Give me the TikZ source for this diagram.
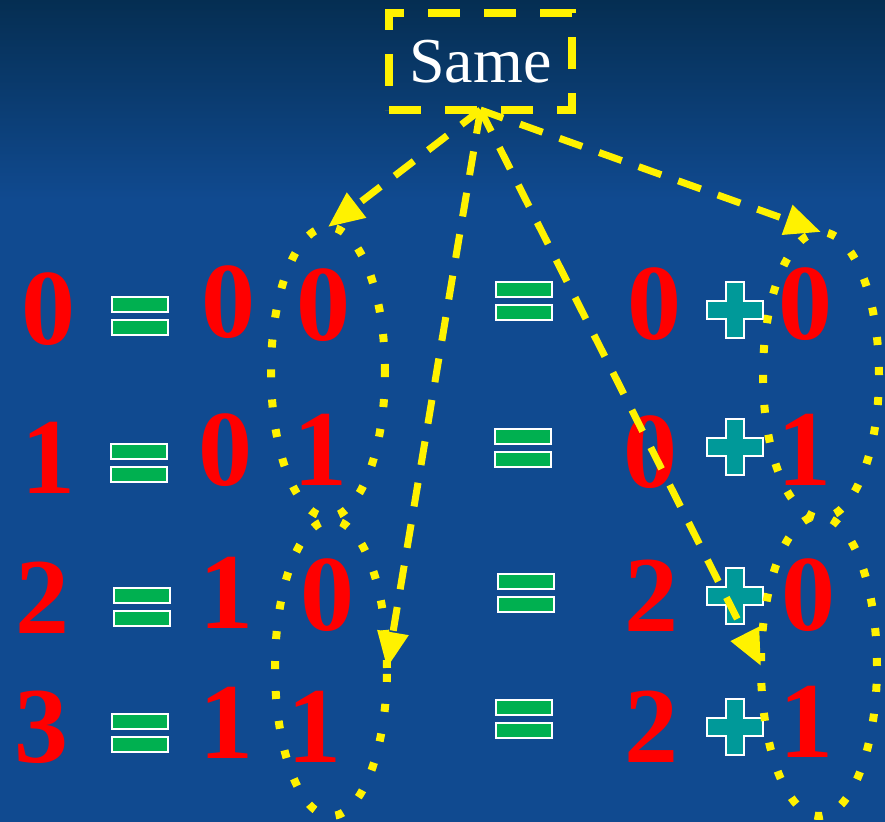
\documentclass[tikz,border=0pt]{standalone}
\usepackage{fontspec}
\setmainfont{Liberation Serif}
\usepackage{tikz}
\usetikzlibrary{arrows.meta,shapes.geometric}
\definecolor{bgdark}{RGB}{5,46,82}
\definecolor{bgblue}{RGB}{16,74,144}
\definecolor{eqgreen}{RGB}{0,176,80}
\definecolor{plusteal}{RGB}{0,153,153}
\tikzset{>={Triangle[length=18pt,width=15pt]}}
\tikzset{
  digit/.style={text=red, font=\bfseries\fontsize{54}{60}\selectfont, inner sep=0pt},
  samebox/.style={draw=yellow, line width=4pt, dash pattern=on 16pt off 12pt,
    minimum width=91.5pt, minimum height=48.5pt, inner sep=0pt, outer sep=0pt,
    text=white, font=\fontsize{32}{38}\selectfont},
  loopring/.style={ellipse, draw=yellow, line width=4pt, dash pattern=on 4pt off 11pt, outer sep=0pt},
  jump/.style={yellow, line width=3.5pt, dash pattern=on 12pt off 9pt, ->},
  eqsign/.pic={
    \filldraw[fill=eqgreen, draw=white, line width=1pt] (-28,-19) rectangle (28,-4);
    \filldraw[fill=eqgreen, draw=white, line width=1pt] (-28,4) rectangle (28,19);
  },
  plussign/.pic={
    \filldraw[fill=plusteal, draw=white, line width=1pt] (-9,-28) -- (9,-28) -- (9,-9) -- (28,-9)
      -- (28,9) -- (9,9) -- (9,28) -- (-9,28) -- (-9,9) -- (-28,9) -- (-28,-9) -- (-9,-9) -- cycle;
  }
}

\begin{document}
\begin{tikzpicture}[x=0.5pt,y=-0.5pt]
    \useasboundingbox (0,0) rectangle (885,822);
    \fill[bgblue] (0,0) rectangle (885,822);
    \shade[top color=bgdark, bottom color=bgblue] (0,0) rectangle (885,200);

    \node[samebox] (same) at (480.5,61.5) {Same};

    % left side
    \node[digit] (n0) at (48,309) {0};
    \node[digit] (n1) at (48,458) {1};
    \node[digit] (n2) at (43,598) {2};
    \node[digit] (n3) at (42,727) {3};
    \pic at (140,316) {eqsign};
    \pic at (139,463) {eqsign};
    \pic at (142,607) {eqsign};
    \pic at (140,733) {eqsign};
    \node[digit] (hi0) at (228,302) {0};
    \node[digit] (lo0) at (323,305) {0};
    \node[digit] (hi1) at (225,450) {0};
    \node[digit] (lo1) at (320,450) {1};
    \node[digit] (hi2) at (226,593) {1};
    \node[digit] (lo2) at (327,595) {0};
    \node[digit] (hi3) at (226,723) {1};
    \node[digit] (lo3) at (314,727) {1};

    % right side
    \pic at (524,301) {eqsign};
    \pic at (523,448) {eqsign};
    \pic at (526,593) {eqsign};
    \pic at (524,719) {eqsign};
    \node[digit] (tw0) at (654,304) {0};
    \node[digit] (tw1) at (650,452) {0};
    \node[digit] (tw2) at (651,596) {2};
    \node[digit] (tw3) at (651,727) {2};
    \pic at (735,310) {plussign};
    \pic at (735,447) {plussign};
    \pic at (735,596) {plussign};
    \pic at (735,727) {plussign};
    \node[digit] (on0) at (805,304) {0};
    \node[digit] (on1) at (804,450) {1};
    \node[digit] (on2) at (808,595) {0};
    \node[digit] (on3) at (806,722) {1};

    % loops
    \node[loopring, minimum width=57pt, minimum height=145pt] (loopA) at (328,372) {};
    \node[loopring, minimum width=56pt, minimum height=148pt] (loopB) at (331,668) {};
    \node[loopring, minimum width=58pt, minimum height=143pt] (loopC) at (821,375) {};
    \node[loopring, minimum width=58pt, minimum height=150pt] (loopD) at (819,666) {};

    \draw[jump] (same.south) -- (loopA.north);
    \draw[jump] (same.south) -- (loopB.east);
    \draw[jump] (same.south) -- (loopD.west);
    \draw[jump] (same.south) -- (loopC.north);
\end{tikzpicture}
\end{document}
